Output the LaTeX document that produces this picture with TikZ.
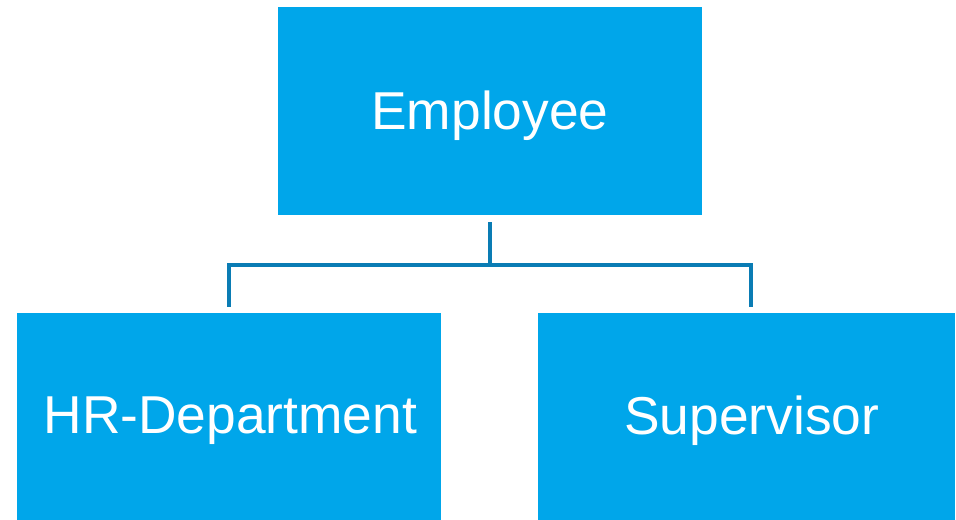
\documentclass[tikz,border=0pt]{standalone}
\usepackage{fontspec}
\setmainfont{Liberation Sans}
\definecolor{boxblue}{RGB}{0,166,234}
\definecolor{lineblue}{RGB}{10,124,180}
\begin{document}
\begin{tikzpicture}[x=0.75pt,y=-0.75pt,
  orgbox/.style={fill=boxblue, draw=none, inner sep=0pt, text=white},
  orglabel/.style={text=white, inner sep=0pt, font=\fontsize{40}{48}\selectfont},
  conn/.style={draw=lineblue, line width=3pt}]
\useasboundingbox (0,0) rectangle (956,520);
\node[orgbox, minimum width=318pt, minimum height=156pt] (emp) at (490,111.5) {};
\node[orgbox, minimum width=318pt, minimum height=155pt] (hr) at (229,416.5) {};
\node[orgbox, minimum width=313pt, minimum height=155pt] (sup) at (746.5,416.5) {};
\node[orglabel] (empt) at ([yshift=-3pt]emp.center) {Employee};
\node[orglabel] (hrt) at ([yshift=-3pt,xshift=1pt]hr.center) {HR-Department};
\node[orglabel] (supt) at ([yshift=-3pt,xshift=4pt]sup.center) {Supervisor};
\coordinate (junction) at (490,265);
\coordinate (righttop) at (751,265);
\coordinate (rightend) at (751,307);
\draw[conn, shorten <=4.9pt] (emp.south) -- (junction);
\draw[conn, shorten <=4.5pt] (hr.north) -- (hr.north |- junction) -- (righttop) -- (rightend);
\end{tikzpicture}
\end{document}
